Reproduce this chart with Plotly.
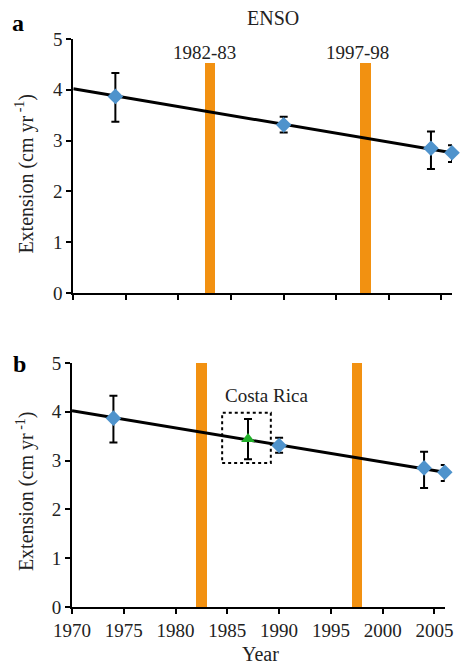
import plotly.graph_objects as go

# ---------------- data ----------------
years = [1974, 1990, 2004, 2006]
ext = [3.87, 3.31, 2.85, 2.76]
err_plus = [0.46, 0.16, 0.33, 0.15]
err_minus = [0.50, 0.15, 0.41, 0.18]

cr_year = [1987]
cr_ext = [3.44]
cr_plus = [0.41]
cr_minus = [0.41]

trend_x = [1970, 2006]
trend_y = [4.02, 2.76]

enso_a_x = [1983.0, 1997.8]
enso_a_h = [4.53, 4.53]
enso_b_x = [1982.5, 1997.5]
enso_b_h = [5.0, 5.0]
enso_labels = ["1982-83", "1997-98"]
enso_label_x = [1982.5, 1997.0]
enso_label_y = [4.74, 4.74]

box_x = [1984.5, 1989.2]
box_y = [2.95, 3.98]

x_ticks = [1970, 1975, 1980, 1985, 1990, 1995, 2000, 2005]
y_ticks = [0, 1, 2, 3, 4, 5]

# ---------------- style ----------------
FONT = "Liberation Serif"
ORANGE = "#F29111"
BLUE = "#4F93CC"
GREEN = "#22B02A"
TXT = "#222222"

fig = go.Figure()

def add_panel(xa, ya, bars_x, bars_h, with_cr):
    fig.add_trace(go.Scatter(x=trend_x, y=trend_y, mode="lines",
                             line=dict(color="black", width=3),
                             xaxis=xa, yaxis=ya, showlegend=False,
                             hoverinfo="skip"))
    fig.add_trace(go.Bar(x=bars_x, y=bars_h, width=1.0, marker_color=ORANGE,
                         marker_line_width=0, xaxis=xa, yaxis=ya,
                         showlegend=False))
    fig.add_trace(go.Scatter(x=years, y=ext, mode="markers",
                             marker=dict(symbol="diamond", size=12, color=BLUE),
                             error_y=dict(type="data", symmetric=False,
                                          array=err_plus, arrayminus=err_minus,
                                          color="black", thickness=2, width=4),
                             cliponaxis=False,
                             xaxis=xa, yaxis=ya, showlegend=False))
    if with_cr:
        fig.add_trace(go.Scatter(x=cr_year, y=cr_ext, mode="markers",
                                 marker=dict(symbol="triangle-up", size=12, color=GREEN),
                                 error_y=dict(type="data", symmetric=False,
                                              array=cr_plus, arrayminus=cr_minus,
                                              color="black", thickness=2, width=4),
                                 cliponaxis=False,
                                 xaxis=xa, yaxis=ya, showlegend=False))

add_panel("x", "y", enso_a_x, enso_a_h, False)
add_panel("x2", "y2", enso_b_x, enso_b_h, True)

axis_common = dict(showline=True, linecolor="black", linewidth=2,
                   ticks="outside", ticklen=5, tickwidth=2, tickcolor="black",
                   showgrid=False, zeroline=False,
                   tickfont=dict(family=FONT, size=19, color=TXT))

fig.update_layout(
    width=464, height=667,
    margin=dict(l=72, r=4, t=39, b=60),
    paper_bgcolor="white", plot_bgcolor="white",
    font=dict(family=FONT, color=TXT),
    bargap=0,
    xaxis=dict(domain=[0.0034, 1.0], range=[1970, 2006], tickvals=x_ticks,
               showticklabels=False, anchor="y", **axis_common),
    yaxis=dict(domain=[0.5528, 1.0], range=[0, 5], tickvals=y_ticks,
               anchor="x", **axis_common),
    xaxis2=dict(domain=[0.0, 0.981], range=[1970, 2006], tickvals=x_ticks,
                anchor="y2", **axis_common),
    yaxis2=dict(domain=[0.0, 0.4296], range=[0, 5], tickvals=y_ticks,
                anchor="x2", **axis_common),
)

ann = []
for lab, lx, ly in zip(enso_labels, enso_label_x, enso_label_y):
    ann.append(dict(x=lx, y=ly, xref="x", yref="y", text=lab, showarrow=False,
                    xanchor="center", yanchor="middle",
                    font=dict(family=FONT, size=19, color=TXT)))
ann.append(dict(x=1989.0, y=1.037, xref="x", yref="paper", text="ENSO", showarrow=False,
                xanchor="center", yanchor="middle",
                font=dict(family=FONT, size=20, color=TXT)))
ann.append(dict(x=1988.75, y=4.34, xref="x2", yref="y2", text="Costa Rica",
                showarrow=False, xanchor="center", yanchor="middle",
                font=dict(family=FONT, size=19, color=TXT)))
ytitle = "Extension (cm yr<sup> -1</sup>)"
ann.append(dict(x=-0.1237, y=0.763, xref="paper", yref="paper", text=ytitle,
                textangle=-90, showarrow=False, xanchor="center", yanchor="middle",
                font=dict(family=FONT, size=20, color=TXT)))
ann.append(dict(x=-0.1237, y=0.204, xref="paper", yref="paper", text=ytitle,
                textangle=-90, showarrow=False, xanchor="center", yanchor="middle",
                font=dict(family=FONT, size=20, color=TXT)))
ann.append(dict(x=-0.1418, y=1.028, xref="paper", yref="paper", text="<b>a</b>",
                showarrow=False, xanchor="center", yanchor="middle",
                font=dict(family=FONT, size=24, color="black")))
ann.append(dict(x=-0.139, y=0.428, xref="paper", yref="paper", text="<b>b</b>",
                showarrow=False, xanchor="center", yanchor="middle",
                font=dict(family=FONT, size=24, color="black")))
ann.append(dict(x=0.497, y=-0.0835, xref="paper", yref="paper", text="Year",
                showarrow=False, xanchor="center", yanchor="middle",
                font=dict(family=FONT, size=20, color=TXT)))
fig.update_layout(annotations=ann)

fig.add_shape(type="rect", xref="x2", yref="y2",
              x0=box_x[0], x1=box_x[1], y0=box_y[0], y1=box_y[1],
              line=dict(color="black", width=2, dash="dot"))

fig.write_html("out.html")
